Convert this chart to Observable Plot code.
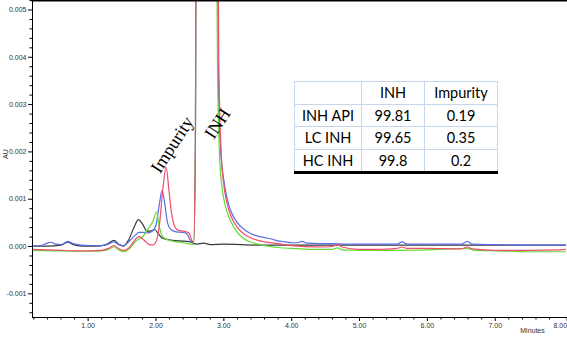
<!DOCTYPE html>
<html>
<head>
<meta charset="utf-8">
<script src="https://cdn.jsdelivr.net/npm/d3@7"></script>
<script src="https://cdn.jsdelivr.net/npm/@observablehq/plot@0.6"></script>
<style>
  html, body { margin: 0; padding: 0; background: #fff; }
  #wrap { position: relative; width: 567px; height: 338px; overflow: hidden; }
  #tbl { position: absolute; left: 294px; top: 81px; border-collapse: collapse;
         font-family: Lato, "Open Sans", "Liberation Sans", sans-serif; font-size: 14.5px; color: #000; background: #fff; }
  #tbl td { border: 1px solid #c6d6ec; text-align: center; padding: 0; height: 21.5px; line-height: 21px; }
  #tbl tr:last-child td { border-bottom: 3px solid #000; }
</style>
</head>
<body>
<div id="wrap"></div>
<script>
// ---- chromatogram traces (minutes, AU) ----
const tBlue = [0.18,0.30,0.38,0.45,0.52,0.60,0.70,0.78,0.90,1.05,1.20,1.30,1.38,1.45,1.52,1.60,1.68,1.75,1.82,1.88,1.95,2.00,2.05,2.09,2.13,2.17,2.22,2.30,2.40,2.46,2.51,2.555,2.58,2.60,2.88,2.915,2.95,3.00,3.05,3.10,3.20,3.30,3.40,3.50,3.60,3.70,3.80,3.90,4.00,4.08,4.15,4.22,4.40,4.60,4.80,5.00,5.55,5.63,5.70,6.00,6.50,6.59,6.66,7.00,7.50,7.95,8.05];
const auBlue = [0.00001,0.00002,0.00006,0.00009,0.00005,0.00004,0.00011,0.00006,0.00003,0.00002,0.00002,0.00005,0.00010,0.00004,0.00002,0.00010,0.00022,0.00030,0.00030,0.00029,0.00033,0.00045,0.00090,0.00118,0.00090,0.00050,0.00036,0.00031,0.00030,0.00026,0.00012,0.00010,0.0020,0.012,0.012,0.0040,0.0021,0.0014,0.0010,0.00076,0.00050,0.00036,0.00027,0.00022,0.00019,0.00016,0.00012,0.00010,0.00008,0.00008,0.00011,0.00007,0.00006,0.00006,0.00005,0.00005,0.00005,0.00010,0.00005,0.00005,0.00005,0.00011,0.00005,0.00004,0.00003,0.00003,0.00003];

const tRed = [0.18,0.40,0.60,0.80,1.00,1.20,1.30,1.38,1.45,1.52,1.60,1.68,1.75,1.82,1.90,1.95,2.00,2.05,2.10,2.15,2.19,2.23,2.27,2.33,2.42,2.49,2.53,2.555,2.58,2.60,2.89,2.925,2.96,3.00,3.05,3.10,3.20,3.30,3.40,3.50,3.60,3.80,4.00,4.20,4.50,4.60,4.67,4.74,5.00,5.30,5.55,5.63,5.70,6.00,6.50,6.59,6.66,7.00,7.50,7.95,8.05];
const auRed = [-0.00006,-0.00007,-0.00008,-0.00009,-0.00009,-0.00008,-0.00004,0.00002,-0.00004,-0.00008,-0.00003,0.00012,0.00021,0.00014,0.00004,0.00003,0.00010,0.00045,0.00120,0.00168,0.00120,0.00070,0.00045,0.00034,0.00032,0.00028,0.00012,0.00010,0.0020,0.012,0.012,0.0040,0.0020,0.0013,0.00090,0.00066,0.00040,0.00026,0.00018,0.00013,0.00010,0.00006,0.00002,0.00000,-0.00001,0.00000,0.00004,-0.00001,-0.00006,-0.00006,-0.00004,-0.00001,-0.00004,-0.00004,-0.00005,-0.00001,-0.00005,-0.00008,-0.00008,-0.00007,-0.00006];

const tGreen = [0.18,0.50,0.80,1.00,1.20,1.30,1.38,1.45,1.52,1.60,1.68,1.75,1.80,1.87,1.95,2.01,2.04,2.07,2.12,2.20,2.30,2.40,2.50,2.555,2.58,2.60,2.87,2.905,2.94,3.00,3.05,3.10,3.20,3.30,3.40,3.50,3.60,3.80,4.00,4.30,4.60,4.67,4.75,5.00,5.50,6.00,6.59,6.70,7.00,7.50,8.05];
const auGreen = [-0.00008,-0.00009,-0.00010,-0.00010,-0.00009,-0.00006,-0.00001,-0.00007,-0.00011,-0.00006,0.00008,0.00016,0.00020,0.00034,0.00052,0.00073,0.00050,0.00030,0.00018,0.00013,0.00010,0.00008,0.00005,0.00004,0.0020,0.012,0.012,0.0040,0.0018,0.0010,0.00072,0.00054,0.00030,0.00016,0.00009,0.00005,0.00002,-0.00002,-0.00004,-0.00006,-0.00006,-0.00003,-0.00007,-0.00008,-0.00008,-0.00007,-0.00004,-0.00008,-0.00009,-0.00011,-0.00011];

const tBlack = [0.18,0.40,0.60,0.70,0.78,0.90,1.10,1.25,1.38,1.45,1.52,1.60,1.68,1.74,1.80,1.87,1.93,1.98,2.03,2.09,2.20,2.35,2.50,2.60,2.70,2.80,3.00,3.50,4.00,5.00,6.00,7.00,8.05];
const auBlack = [0.00001,0.00001,0.00003,0.00009,0.00004,0.00001,0.00001,0.00003,0.00013,0.00005,0.00001,0.00015,0.00042,0.00057,0.00048,0.00032,0.00033,0.00036,0.00028,0.00018,0.00014,0.00012,0.00010,0.00005,0.00007,0.00004,0.00005,0.00003,0.00003,0.00003,0.00003,0.00003,0.00003];

// ---- axis ticks ----
const xMajor = [1, 2, 3, 4, 5, 6, 7];
const xLast = [8];
const yMajor = [-0.001, 0, 0.001, 0.002, 0.003, 0.004, 0.005];

// ---- annotations (label, minutes, AU) ----
const peakLabels = ["Impurity", "INH"];
const peakLabelT = [2.24, 2.91];
const peakLabelAU = [0.00215, 0.0026];

// ---- purity table ----
const tableHeader = ["", "INH", "Impurity"];
const sampleNames = ["INH API", "LC INH", "HC INH"];
const inhPercent = ["99.81", "99.65", "99.8"];
const impurityPercent = ["0.19", "0.35", "0.2"];

const toRows = (t, v) => t.map((d, i) => ({t: d, v: v[i]}));
const xMinor = d3.range(2, 81, 2).map(d => d / 10).filter(d => Math.abs(d - Math.round(d)) > 1e-6);
const yMinor = d3.range(-14, 53, 2).map(d => d / 10000).filter(d => Math.abs(d * 1000 - Math.round(d * 1000)) > 1e-6);
const labels = peakLabels.map((s, i) => ({s, t: peakLabelT[i], v: peakLabelAU[i]}));

const lineOpts = {x: "t", y: "v", curve: "monotone-x", strokeWidth: 1.2, clip: true};

const chart = Plot.plot({
  width: 567, height: 338,
  marginLeft: 32, marginRight: 1, marginTop: 0, marginBottom: 21,
  x: {domain: [0.18, 8.05]},
  y: {domain: [-0.0015, 0.0052]},
  style: {fontFamily: "'Liberation Sans', Arial, sans-serif", fontSize: "7px", color: "#333", background: "white"},
  marks: [
    Plot.line(toRows(tBlack, auBlack), {...lineOpts, stroke: "#3a3a3a"}),
    Plot.line(toRows(tBlue, auBlue), {...lineOpts, stroke: "#5a6de8"}),
    Plot.line(toRows(tGreen, auGreen), {...lineOpts, stroke: "#62dc34"}),
    Plot.line(toRows(tRed, auRed), {...lineOpts, stroke: "#f24d6c"}),
    Plot.frame({anchor: "left", stroke: "#000"}),
    Plot.frame({anchor: "bottom", stroke: "#000"}),
    Plot.frame({anchor: "top", stroke: "#000", strokeWidth: 2}),
    Plot.axisY({ticks: yMajor, tickSize: 4, tickPadding: 2, tickFormat: d => d.toFixed(3), label: null, stroke: "#000"}),
    Plot.axisY({ticks: yMinor, tickSize: 2.5, tickFormat: () => "", label: null, stroke: "#000"}),
    Plot.axisX({ticks: xMajor, tickSize: 4, tickPadding: 2, tickFormat: d => d.toFixed(2), label: null, stroke: "#000"}),
    Plot.axisX({ticks: xLast, tickSize: 4, tickPadding: 2, tickFormat: d => d.toFixed(2), label: null, stroke: "#000", textAnchor: "end", dx: 4}),
    Plot.axisX({ticks: xMinor, tickSize: 2.5, tickFormat: () => "", label: null, stroke: "#000"}),
    Plot.text(["AU"], {frameAnchor: "left", dx: -27, rotate: -90, fontSize: 7, fill: "#333"}),
    Plot.text(["Minutes"], {frameAnchor: "bottom-right", dx: -34, dy: 15, textAnchor: "middle", fontSize: 7, fill: "#333"}),
    Plot.text(labels, {x: "t", y: "v", text: "s", rotate: -57, fontSize: 18, fontFamily: "'Liberation Serif', 'Times New Roman', serif", fill: "#000"})
  ]
});
const wrap = document.getElementById("wrap");
wrap.appendChild(chart);

// table
const tbl = document.createElement("table");
tbl.id = "tbl";
const colW = [66, 62, 72];
const addRow = cells => {
  const tr = document.createElement("tr");
  cells.forEach((c, i) => { const td = document.createElement("td"); td.textContent = c; td.style.width = colW[i] + "px"; tr.appendChild(td); });
  tbl.appendChild(tr);
};
addRow(tableHeader);
sampleNames.forEach((n, i) => addRow([n, inhPercent[i], impurityPercent[i]]));
wrap.appendChild(tbl);
</script>
</body>
</html>
